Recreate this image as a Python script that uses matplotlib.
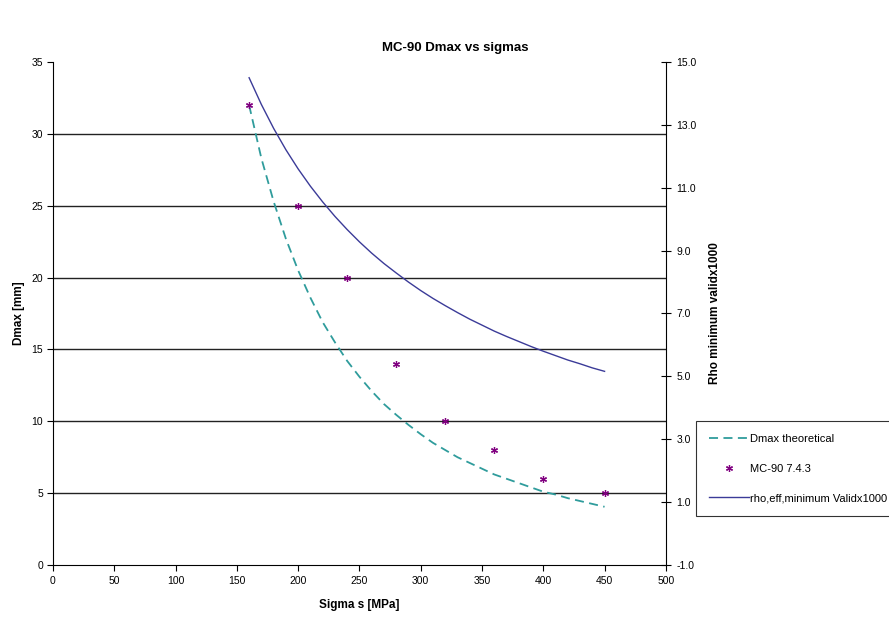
import matplotlib
matplotlib.use("Agg")
import matplotlib.pyplot as plt

plt.rcParams['font.family'] = ['Liberation Sans', 'DejaVu Sans']

# theoretical Dmax curve
sigma_line = [160, 170, 180, 190, 200, 210, 220, 230, 240, 250, 260, 270, 280, 290, 300,
              310, 320, 330, 340, 350, 360, 370, 380, 390, 400, 410, 420, 430, 440, 450]
dmax_theory = [32.0, 28.3, 25.3, 22.7, 20.5, 18.6, 16.9, 15.5, 14.2, 13.1, 12.1, 11.2, 10.45, 9.75, 9.1,
               8.5, 8.0, 7.5, 7.1, 6.7, 6.3, 6.0, 5.7, 5.4, 5.1, 4.9, 4.65, 4.45, 4.25, 4.05]
rho_eff = [14.50, 13.65, 12.89, 12.21, 11.60, 11.05, 10.55, 10.09, 9.67, 9.28, 8.92, 8.59, 8.29, 8.00, 7.73,
           7.48, 7.25, 7.03, 6.82, 6.63, 6.44, 6.27, 6.11, 5.95, 5.80, 5.66, 5.52, 5.40, 5.27, 5.16]

# MC-90 points
sigma_pts = [160, 200, 240, 280, 320, 360, 400, 450]
dmax_mc90 = [32, 25, 20, 14, 10, 8, 6, 5]

fig = plt.figure(figsize=(8.89, 6.17), dpi=100)
ax = fig.add_axes([0.0596, 0.0843, 0.6894, 0.8152])
ax2 = ax.twinx()

for yv in range(5, 35, 5):
    ax.axhline(yv, color='#222222', lw=1.0, zorder=0)

l1, = ax.plot(sigma_line, dmax_theory, ls=(0, (5, 3)), color='#2f9c9c', lw=1.3,
              label='Dmax theoretical')
l2, = ax.plot(sigma_pts, dmax_mc90, ls='none', marker=(6, 2, 0), ms=5, mew=0.9,
              color='#800080', label='MC-90 7.4.3')
l3, = ax2.plot(sigma_line, rho_eff, color='#3b3b98', lw=1.0,
               label='rho,eff,minimum Validx1000')

ax.set_xlim(0, 500)
ax.set_ylim(0, 35)
ax.set_xticks(range(0, 501, 50))
ax.set_yticks(range(0, 36, 5))
ax2.set_ylim(-1, 15)
ax2.set_yticks([-1, 1, 3, 5, 7, 9, 11, 13, 15])
ax2.set_yticklabels([f'{v:.1f}' for v in [-1, 1, 3, 5, 7, 9, 11, 13, 15]])

for a in (ax, ax2):
    a.spines['top'].set_visible(False)
ax.spines['right'].set_visible(False)
ax2.spines['left'].set_visible(False)
ax2.spines['bottom'].set_visible(False)

ax.tick_params(axis='y', direction='out', length=4, labelsize=7.5, color='black', pad=3)
ax.tick_params(axis='x', direction='out', length=4, labelsize=7.5, color='black', pad=4)
ax2.tick_params(axis='y', direction='inout', length=7, labelsize=7.5, pad=4)

ax.set_xlabel('Sigma s [MPa]', fontsize=8.5, fontweight='bold', labelpad=9)
ax.set_ylabel('Dmax [mm]', fontsize=8.5, fontweight='bold', labelpad=5)
ax2.set_ylabel('Rho minimum validx1000', fontsize=8.5, fontweight='bold', labelpad=9)
fig.suptitle('MC-90 Dmax vs sigmas', fontsize=9.5, fontweight='bold', x=0.512, y=0.932)

leg = fig.legend(handles=[l1, l2, l3], loc='lower left', bbox_to_anchor=(0.7825, 0.163),
                 fontsize=8, frameon=True, fancybox=False, edgecolor='black',
                 borderpad=1.2, labelspacing=1.75, handlelength=3.6, handletextpad=0.05,
                 borderaxespad=0)
leg.get_frame().set_linewidth(0.8)

fig.savefig('out.png', dpi=100)
